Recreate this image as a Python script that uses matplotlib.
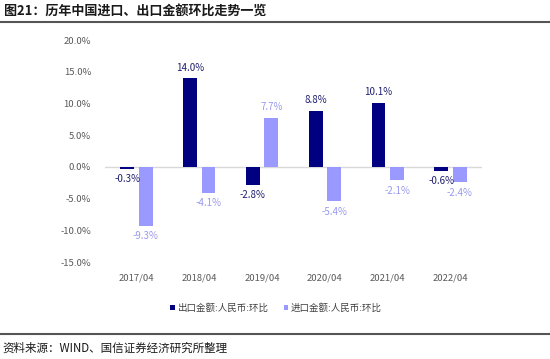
import matplotlib
matplotlib.use("Agg")
import matplotlib.pyplot as plt
import numpy as np

plt.rcParams['font.family'] = ['Noto Sans CJK SC', 'DejaVu Sans']
plt.rcParams['axes.unicode_minus'] = False

categories = ["2017/04", "2018/04", "2019/04", "2020/04", "2021/04", "2022/04"]
export_vals = [-0.3, 14.0, -2.8, 8.8, 10.1, -0.6]
import_vals = [-9.3, -4.1, 7.7, -5.4, -2.1, -2.4]
series_names = ["出口金额:人民币:环比", "进口金额:人民币:环比"]
yticks = [-15, -10, -5, 0, 5, 10, 15, 20]

c_dark = "#000080"
c_light = "#9999FF"
lab_dark = "#1F1F6F"
lab_light = "#9999EE"

fig = plt.figure(figsize=(5.5, 3.59), dpi=100)
ax = fig.add_axes([105/550, 1-262/359, (482-105)/550, (262-40)/359])

x = np.arange(len(categories))
w = 0.22
off = 0.148
b1 = ax.bar(x - off, export_vals, w, color=c_dark, label=series_names[0])
b2 = ax.bar(x + off, import_vals, w, color=c_light, label=series_names[1])

ax.set_xlim(-0.5, 5.5)
ax.set_ylim(-15, 20)
ax.set_yticks(yticks)
ax.set_yticklabels([f"{v:.1f}%" for v in yticks], fontsize=6.8, color="#595959")
ax.set_xticks(x)
ax.set_xticklabels(categories, fontsize=6.8, color="#595959")
ax.tick_params(length=0, pad=10)
ax.tick_params(axis='x', pad=8)
for s in ax.spines.values():
    s.set_visible(False)
ax.axhline(0, color="#D9D9D9", lw=1, zorder=0)

for xs, vals, col in [(x - off, export_vals, lab_dark), (x + off, import_vals, lab_light)]:
    for xi, v in zip(xs, vals):
        if v >= 0:
            ax.annotate(f"{v:.1f}%", (xi, v), xytext=(0, 4), textcoords="offset points",
                        ha="center", va="bottom", fontsize=7, color=col)
        else:
            ax.annotate(f"{v:.1f}%", (xi, v), xytext=(0, -4), textcoords="offset points",
                        ha="center", va="top", fontsize=7, color=col)

leg = fig.legend(handles=[b1, b2], loc="center", bbox_to_anchor=(276/550, 1-308/359),
                 ncol=2, frameon=False, fontsize=6.8, handlelength=0.5, handleheight=0.5,
                 handletextpad=0.3, columnspacing=1.6)
for t in leg.get_texts():
    t.set_color("#404040")

fig.text(4/550, 1-11/359, "图21：历年中国进口、出口金额环比走势一览", fontsize=9.4, fontweight="bold",
         va="center", ha="left", color="#1a1a1a")
fig.add_artist(plt.Line2D([0, 1], [1-22/359, 1-22/359], color="#555555", lw=1.5, transform=fig.transFigure))
fig.add_artist(plt.Line2D([0, 1], [1-334/359, 1-334/359], color="#555555", lw=1.5, transform=fig.transFigure))
fig.text(2/550, 1-348/359, "资料来源：WIND、国信证券经济研究所整理", fontsize=8.3, va="center", ha="left", color="#1a1a1a")

fig.savefig("out.png", dpi=100)
